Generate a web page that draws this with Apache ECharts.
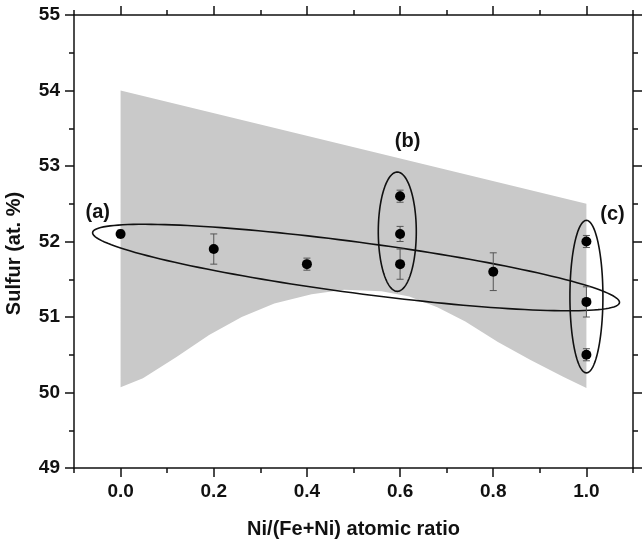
<!DOCTYPE html>
<html>
<head>
<meta charset="utf-8">
<script src="https://cdn.jsdelivr.net/npm/echarts@6/dist/echarts.min.js"></script>
<style>
html,body{margin:0;padding:0;background:#fff;}
#chart{width:642px;height:542px;}
</style>
</head>
<body>
<div id="chart"></div>
<script>
// measured points: Ni/(Fe+Ni) ratio, sulfur at.% and error
var ratioX = [0.0, 0.2, 0.4, 0.6, 0.6, 0.6, 0.8, 1.0, 1.0, 1.0];
var sulfurY = [52.1, 51.9, 51.7, 52.6, 52.1, 51.7, 51.6, 52.0, 51.2, 50.5];
var sulfurErr = [0.05, 0.2, 0.08, 0.08, 0.1, 0.2, 0.25, 0.08, 0.2, 0.08];

// grey band
var bandTopX = [0.0, 1.0];
var bandTopY = [54.0, 52.5];
var bandLowX = [0.0, 0.048, 0.12, 0.19, 0.26, 0.33, 0.41, 0.48, 0.56, 0.62, 0.68, 0.74, 0.81, 0.88, 0.95, 1.0];
var bandLowY = [50.07, 50.19, 50.47, 50.76, 51.0, 51.18, 51.3, 51.36, 51.34, 51.27, 51.13, 50.94, 50.67, 50.43, 50.21, 50.06];

// groups (a) (b) (c): ellipse axis ends and label anchors
var groupNames = ["(a)", "(b)", "(c)"];
var ellipseStart = [[-0.06, 52.12], [0.594, 52.92], [1.0, 52.28]];
var ellipseEnd = [[1.071, 51.19], [0.594, 51.34], [1.0, 50.26]];
var labelX = [-0.049, 0.616, 1.056];
var labelY = [52.39, 53.32, 52.36];

var xTicks = [0.0, 0.2, 0.4, 0.6, 0.8, 1.0];
var xMinorTicks = [-0.1, 0.1, 0.3, 0.5, 0.7, 0.9, 1.1];

var ellipseHalfWidth = [25.5, 19, 16.5];
var ink = "#111";
var font = "Liberation Sans";

var chart = echarts.init(document.getElementById("chart"));

function renderBand(params, api){
	var pts = [];
	for (var i = 0; i < bandTopX.length; i++){
		pts.push(api.coord([bandTopX[i], bandTopY[i]]));
	}
	for (var j = bandLowX.length - 1; j >= 0; j--){
		pts.push(api.coord([bandLowX[j], bandLowY[j]]));
	}
	return {type: "polygon", shape: {points: pts}, style: {fill: "#c9c9c9"}};
}

function renderEllipse(params, api){
	var i = params.dataIndex;
	var p1 = api.coord(ellipseStart[i]);
	var p2 = api.coord(ellipseEnd[i]);
	var cx = (p1[0] + p2[0]) / 2, cy = (p1[1] + p2[1]) / 2;
	var dx = p2[0] - p1[0], dy = p2[1] - p1[1];
	var a = Math.sqrt(dx * dx + dy * dy) / 2;
	var ang = Math.atan2(dy, dx);
	var b = ellipseHalfWidth[i];
	var pts = [];
	for (var k = 0; k < 160; k++){
		var t = k / 160 * Math.PI * 2;
		var u = a * Math.cos(t), v = b * Math.sin(t);
		pts.push([cx + u * Math.cos(ang) - v * Math.sin(ang), cy + u * Math.sin(ang) + v * Math.cos(ang)]);
	}
	return {type: "polygon", shape: {points: pts}, style: {fill: "none", stroke: ink, lineWidth: 1.6}};
}

function renderErr(params, api){
	var x = api.value(0), y = api.value(1), e = api.value(2);
	var hi = api.coord([x, y + e]), lo = api.coord([x, y - e]);
	var w = 3.5;
	var st = {stroke: "#555", lineWidth: 1};
	return {type: "group", children: [
		{type: "line", shape: {x1: hi[0], y1: hi[1], x2: lo[0], y2: lo[1]}, style: st},
		{type: "line", shape: {x1: hi[0] - w, y1: hi[1], x2: hi[0] + w, y2: hi[1]}, style: st},
		{type: "line", shape: {x1: lo[0] - w, y1: lo[1], x2: lo[0] + w, y2: lo[1]}, style: st}
	]};
}

var lineSt = {color: ink, width: 1.5};

function xAxisConf(pos, ticks, len, showLine, showLabel){
	return {
		type: "value", position: pos, min: -0.1, max: 1.1, interval: 0.1,
		axisLine: {show: showLine, onZero: false, lineStyle: lineSt},
		axisTick: {show: true, inside: false, length: len, customValues: ticks, lineStyle: lineSt},
		axisLabel: {show: showLabel, customValues: ticks, margin: 14, formatter: function(v){ return v.toFixed(1); },
			color: ink, fontSize: 19, fontWeight: "bold", fontFamily: font},
		splitLine: {show: false}
	};
}

function yAxisConf(pos, showLabel){
	return {
		type: "value", position: pos, min: 49, max: 55, interval: 1,
		axisLine: {show: true, onZero: false, lineStyle: lineSt},
		axisTick: {show: true, inside: false, length: 9, lineStyle: lineSt},
		minorTick: {show: true, splitNumber: 2, length: 5, lineStyle: lineSt},
		axisLabel: {show: showLabel, margin: 14, color: ink, fontSize: 19, fontWeight: "bold", fontFamily: font},
		splitLine: {show: false},
		minorSplitLine: {show: false}
	};
}

var xMain = xAxisConf("bottom", xTicks, 9, true, true);
xMain.name = "Ni/(Fe+Ni) atomic ratio";
xMain.nameLocation = "middle";
xMain.nameGap = 51;
xMain.nameTextStyle = {color: ink, fontSize: 20, fontWeight: "bold", fontFamily: font};

var yMain = yAxisConf("left", true);
yMain.name = "Sulfur (at. %)";
yMain.nameLocation = "middle";
yMain.nameGap = 50;
yMain.nameTextStyle = {color: ink, fontSize: 20, fontWeight: "bold", fontFamily: font, padding: [0, 24, 0, 0]};

var pointData = ratioX.map(function(x, i){ return [x, sulfurY[i]]; });
var errData = ratioX.map(function(x, i){ return [x, sulfurY[i], sulfurErr[i]]; });
var labelData = groupNames.map(function(n, i){ return {name: n, value: [labelX[i], labelY[i]]}; });

chart.setOption({
	animation: false,
	backgroundColor: "#fff",
	grid: {left: 74, right: 9, top: 15, bottom: 74, containLabel: false, outerBoundsMode: "none"},
	xAxis: [
		xMain,
		xAxisConf("bottom", xMinorTicks, 5, false, false),
		xAxisConf("top", xTicks, 9, true, false),
		xAxisConf("top", xMinorTicks, 5, false, false)
	],
	yAxis: [
		yMain,
		yAxisConf("right", false)
	],
	series: [
		{type: "custom", renderItem: renderBand, data: [[0.5, 52]], z: 1, silent: true},
		{type: "custom", renderItem: renderEllipse, data: ellipseStart, z: 2, silent: true},
		{type: "custom", renderItem: renderErr, data: errData, z: 3},
		{type: "scatter", data: pointData, symbol: "circle", symbolSize: 10,
			itemStyle: {color: "#000", opacity: 1}, z: 4},
		{type: "scatter", data: labelData, symbolSize: 0, z: 5, itemStyle: {opacity: 1},
			label: {show: true, position: "inside", formatter: "{b}",
				color: ink, fontSize: 20, fontWeight: "bold", fontFamily: font}}
	]
});
</script>
</body>
</html>
